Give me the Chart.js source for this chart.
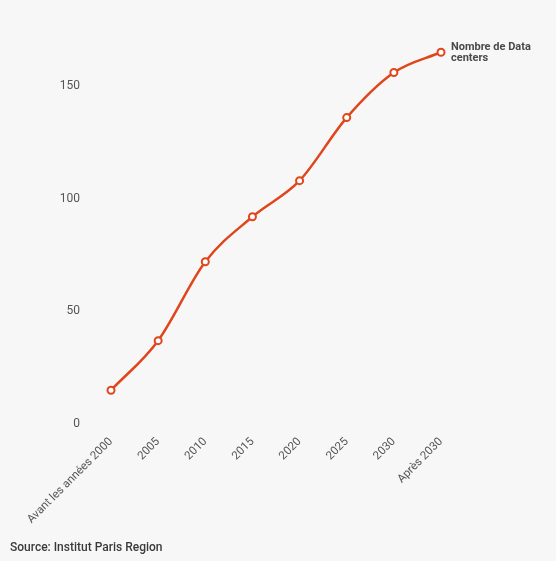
<!DOCTYPE html>
<html>
<head>
<meta charset="utf-8">
<script src="https://cdn.jsdelivr.net/npm/chart.js@4"></script>
<style>
  html, body { margin: 0; padding: 0; background: #f7f7f7; }
  #wrap { width: 556px; height: 561px; position: relative; }
</style>
</head>
<body>
<div id="wrap"><canvas id="c" width="556" height="561"></canvas></div>
<script>
const categories = ["Avant les années 2000", "2005", "2010", "2015", "2020", "2025", "2030", "Après 2030"];
const dataCenters = [15, 37, 72, 92, 108, 136, 156, 165];
const seriesLabel = ["Nombre de Data", "centers"];
const yTicks = [0, 50, 100, 150];
const sourceText = "Source: Institut Paris Region";

const lineColor = "#e0461b";
const textColor = "#555555";

const endLabel = {
  id: "endLabel",
  afterDatasetsDraw(chart) {
    const meta = chart.getDatasetMeta(0);
    const pt = meta.data[meta.data.length - 1];
    const ctx = chart.ctx;
    ctx.save();
    ctx.font = "bold 11px Roboto, 'Liberation Sans', sans-serif";
    ctx.fillStyle = "#4a4a4a";
    ctx.textAlign = "left";
    ctx.textBaseline = "middle";
    ctx.fillText(seriesLabel[0], pt.x + 10, pt.y - 5);
    ctx.fillText(seriesLabel[1], pt.x + 10, pt.y + 6);
    ctx.restore();
  }
};

new Chart(document.getElementById("c"), {
  type: "line",
  data: {
    labels: categories,
    datasets: [{
      label: seriesLabel.join(" "),
      data: dataCenters,
      borderColor: lineColor,
      borderWidth: 2.5,
      cubicInterpolationMode: "monotone",
      pointRadius: 3.5,
      pointBorderWidth: 2,
      pointBackgroundColor: "#ffffff",
      pointBorderColor: lineColor,
      clip: false
    }]
  },
  options: {
    responsive: false,
    animation: false,
    devicePixelRatio: 1,
    layout: { padding: { left: 10, right: 115, top: 41, bottom: 0 } },
    plugins: {
      legend: { display: false },
      tooltip: { enabled: false },
      title: {
        display: true,
        text: sourceText,
        position: "bottom",
        align: "start",
        color: "#3a3a3a",
        font: { family: "Roboto, 'Liberation Sans', sans-serif", size: 12, weight: "500" },
        padding: { top: 14, bottom: 6 }
      }
    },
    scales: {
      x: {
        grid: { display: false, drawTicks: false },
        border: { display: false },
        afterFit(scale) { scale.height = 102.6; },
        ticks: {
          color: textColor,
          font: { family: "Roboto, 'Liberation Sans', sans-serif", size: 11.5 },
          minRotation: 45,
          maxRotation: 45,
          autoSkip: false,
          padding: 11
        }
      },
      y: {
        min: 0,
        max: 170,
        grid: { display: false, drawTicks: false },
        border: { display: false },
        afterFit(scale) { scale.width = 101; },
        afterBuildTicks(scale) {
          scale.ticks = scale.ticks.filter(t => yTicks.includes(t.value));
        },
        ticks: {
          stepSize: 50,
          color: textColor,
          font: { family: "Roboto, 'Liberation Sans', sans-serif", size: 12 },
          padding: 31
        }
      }
    }
  },
  plugins: [endLabel]
});
</script>
</body>
</html>
